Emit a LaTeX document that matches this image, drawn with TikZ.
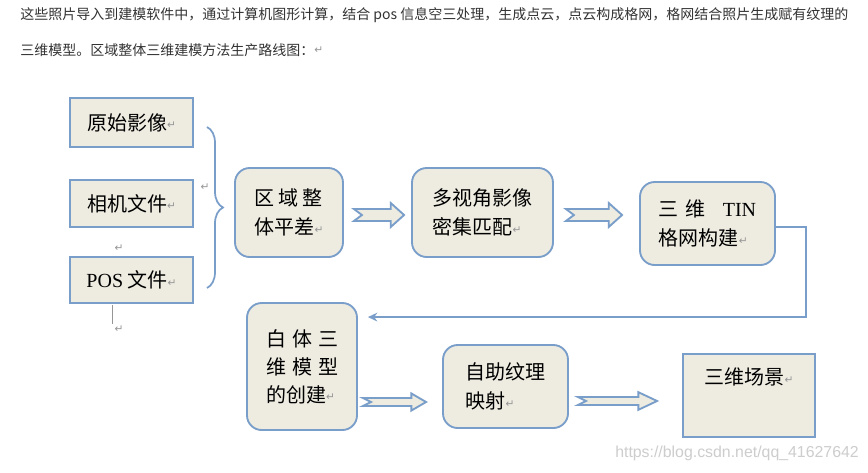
\documentclass[tikz,border=0pt]{standalone}
\usepackage{fontspec}
\setmainfont{Noto Sans CJK SC}
\newfontfamily\tnr{Liberation Serif}
\newfontfamily\arial{Liberation Sans}
\newfontfamily\dejavu{DejaVu Sans}
\usepackage{tikz}
\usetikzlibrary{calc,arrows.meta,decorations.pathreplacing}

\definecolor{boxfill}{RGB}{238,236,225}
\definecolor{boxblue}{RGB}{122,158,202}
\definecolor{txtgray}{RGB}{51,51,51}
\definecolor{markgray}{RGB}{150,150,150}
\definecolor{wmgray}{RGB}{205,205,205}

\newcommand{\retmark}{{\dejavu\fontsize{8}{8}\selectfont\color{markgray}\raisebox{1pt}{↵}}}
% block arrow: start, end, shaft half, head half, head length, notch
\newcommand{\fatarrow}[6]{%
  \draw[fatarrow] let \p1=(#1), \p2=(#2) in
    (\x1,\y1+#3) -- (\x2-#5,\y1+#3) -- (\x2-#5,\y1+#4) -- (\x2,\y1)
    -- (\x2-#5,\y1-#4) -- (\x2-#5,\y1-#3) -- (\x1,\y1-#3) -- (\x1+#6,\y1) -- cycle;}

\begin{document}
\begin{tikzpicture}[x=0.75pt,y=0.75pt,yscale=-1,
  boxsize/.style 2 args={minimum width=#1*0.75pt,minimum height=#2*0.75pt},
  sqbox/.style={draw=boxblue,fill=boxfill,line width=1.4pt,inner sep=0pt,align=left,font=\fontsize{15}{22}\selectfont},
  rndbox/.style={sqbox,rounded corners=11pt},
  fatarrow/.style={draw=boxblue,fill=boxfill,line width=1.4pt,line join=miter},
  link/.style={draw=boxblue,line width=1.3pt,-{Stealth[length=7pt,width=6.5pt]}},
  toptext/.style={anchor=west,inner sep=0pt,font=\fontsize{10.5}{12}\selectfont,text=txtgray}]
\fill[white] (0,0) rectangle (868,472);
\useasboundingbox (0,0) rectangle (868,472);

% Text Node
\node[toptext] (line1) at (20,15) {这些照片导入到建模软件中，通过计算机图形计算，结合 pos 信息空三处理，生成点云，点云构成格网，格网结合照片生成赋有纹理的};
% Text Node
\node[toptext] (line2) at (20,50) {三维模型。区域整体三维建模方法生产路线图：\retmark};

%Shape: Rectangle
\node[sqbox,boxsize={123}{49}] (raw) at (131.5,122.5) {原始影像\retmark};
\node[sqbox,boxsize={123}{47}] (cam) at (131.5,203.5) {相机文件\retmark};
\node[sqbox,boxsize={123}{46}] (pos) at (131.5,280) {{\tnr POS} 文件\retmark};
\node[inner sep=0pt] (rm1) at (119,249) {\retmark};
%Straight Lines
\draw[markgray,line width=0.6pt] ($(pos.south west)+(43,1)$) -- ++(0,19);
\node[inner sep=0pt] (rm2) at (119,330) {\retmark};

%Shape: Brace
\draw[boxblue,line width=1.3pt,decorate,decoration={brace,amplitude=12pt}] (207,127) -- (207,288);
\node[inner sep=0pt] (rm3) at (205,188) {\retmark};

%Rounded Rect
\node[rndbox,boxsize={108}{89}] (qy) at (289,212.5) {\makebox[3.4em][s]{区\hfill 域\hfill 整}\\体平差\retmark};
\node[rndbox,boxsize={141}{89}] (dsj) at (482.5,212.5) {多视角影像\\密集匹配\retmark};
\node[rndbox,boxsize={135}{83}] (tin) at (707.5,223.5) {三\hspace{0.35em}维\hspace{0.85em}{\tnr TIN}\\格网构建\retmark};
\node[rndbox,boxsize={110}{127},font=\fontsize{15}{21}\selectfont] (bt) at (302,366.5) {\makebox[3.6em][s]{白\hfill 体\hfill 三}\\\makebox[3.6em][s]{维\hfill 模\hfill 型}\\的创建\retmark};
\node[rndbox,boxsize={125}{83}] (zz) at (505.5,386.5) {自助纹理\\映射\retmark};
%Shape: Rectangle
\node[sqbox,boxsize={132}{83}] (scene) at (749,395.5) {};
% Text Node
\node[font=\fontsize{15}{22}\selectfont,inner sep=0pt] (scenetxt) at ($(scene.north)+(0,24)$) {三维场景\retmark};

%Block Arrows
\coordinate (a1s) at ($(qy.east)+(10,2.5)$);
\coordinate (a1e) at ($(dsj.west)+(-7,2.5)$);
\fatarrow{a1s}{a1e}{4.5pt}{9pt}{10pt}{6pt}
\coordinate (a2s) at ($(dsj.east)+(12,2.5)$);
\coordinate (a2e) at ($(a2s -| tin.west)+(-17,0)$);
\fatarrow{a2s}{a2e}{4.5pt}{9pt}{10pt}{6pt}
\coordinate (a3s) at ($(bt.east)+(5,35.5)$);
\coordinate (a3e) at ($(a3s -| zz.west)+(-16,0)$);
\fatarrow{a3s}{a3e}{3pt}{6.4pt}{11pt}{6pt}
\coordinate (a4s) at ($(zz.east)+(9,14.5)$);
\coordinate (a4e) at ($(a4s -| scene.west)+(-25,0)$);
\fatarrow{a4s}{a4e}{3pt}{6.6pt}{14pt}{6pt}

%Straight Lines
\coordinate (tinout) at ($(tin.east)+(0,3.5)$);
\coordinate (btin) at ($(bt.north east)+(10,15)$);
\draw[link] (tinout) -- ++(30,0) |- (btin);

% Text Node
\node[anchor=west,inner sep=0pt,font=\arial\fontsize{11.9}{12}\selectfont,text=wmgray] (wm) at (615,453) {https://blog.csdn.net/qq\_41627642};

\end{tikzpicture}
\end{document}
